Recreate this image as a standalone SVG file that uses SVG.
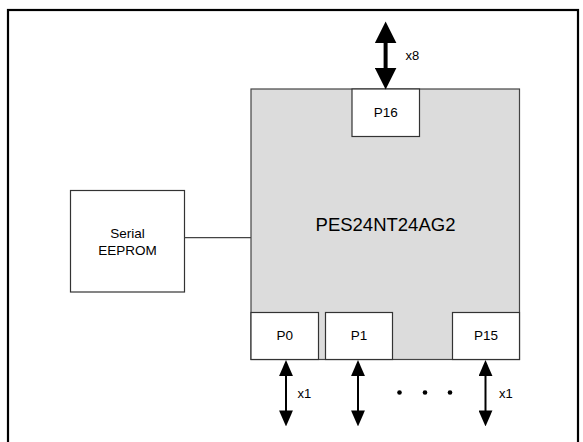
<svg xmlns="http://www.w3.org/2000/svg" width="583" height="442" viewBox="0 0 583 442">
<style>
.box{fill:#fff;stroke:#333;stroke-width:1.2}
.chip{fill:#dcdcdc;stroke:#444;stroke-width:1.2}
.t{font-family:"Liberation Sans",Arial,sans-serif;font-size:13.5px;fill:#000;text-anchor:middle}
.big{font-size:18.5px}
.lbl{font-family:"Liberation Sans",Arial,sans-serif;font-size:13px;fill:#000}
.thick{stroke:#000;stroke-width:4;fill:none}
.thin{stroke:#000;stroke-width:2;fill:none}
.link{stroke:#444;stroke-width:1.2;fill:none}
</style>
<defs>
<marker id="hb" markerUnits="userSpaceOnUse" markerWidth="22" markerHeight="22" viewBox="0 0 21 21" refX="10" refY="10.5" orient="auto-start-reverse">
<path d="M0,0 L21,10.5 L0,21 z" fill="#000"/>
</marker>
<marker id="hs" markerUnits="userSpaceOnUse" markerWidth="16" markerHeight="14" viewBox="0 0 15 13" refX="8" refY="6.5" orient="auto-start-reverse">
<path d="M0,0 L15,6.5 L0,13 z" fill="#000"/>
</marker>
</defs>
<rect x="0" y="0" width="583" height="442" fill="#fff"/>
<rect x="8" y="10" width="570" height="460" fill="none" stroke="#000" stroke-width="2.2"/>
<g id="chip">
<rect class="chip" x="251" y="89" width="268.5" height="270.5"/>
<text class="t big" x="385.5" y="230.5">PES24NT24AG2</text>
</g>
<g id="p16">
<rect class="box" x="352" y="89" width="67.5" height="47.5"/>
<text class="t" x="385.7" y="117">P16</text>
</g>
<g id="p0">
<rect class="box" x="251" y="312.5" width="67.5" height="47"/>
<text class="t" x="284.7" y="340">P0</text>
</g>
<g id="p1">
<rect class="box" x="325.5" y="312.5" width="67" height="47"/>
<text class="t" x="359" y="340">P1</text>
</g>
<g id="p15">
<rect class="box" x="452.5" y="312.5" width="67" height="47"/>
<text class="t" x="486" y="340">P15</text>
</g>
<g id="eeprom">
<rect class="box" x="70.5" y="190.5" width="114" height="101.5"/>
<text class="t" x="127.5" y="238">Serial</text>
<text class="t" x="127.5" y="255">EEPROM</text>
</g>
<g id="connectors">
<line class="link" x1="184.5" y1="237.7" x2="251" y2="237.7"/>
<line class="thick" x1="385.6" y1="33" x2="385.6" y2="78" marker-start="url(#hb)" marker-end="url(#hb)"/>
<line class="thin" x1="286" y1="367.5" x2="286" y2="419" marker-start="url(#hs)" marker-end="url(#hs)"/>
<line class="thin" x1="358" y1="367.5" x2="358" y2="419" marker-start="url(#hs)" marker-end="url(#hs)"/>
<line class="thin" x1="485.5" y1="367.5" x2="485.5" y2="419" marker-start="url(#hs)" marker-end="url(#hs)"/>
<text class="lbl" x="405.5" y="60">x8</text>
<text class="lbl" x="297.5" y="398">x1</text>
<text class="lbl" x="499" y="398">x1</text>
<circle cx="399.5" cy="392.5" r="2.3" fill="#000"/>
<circle cx="425" cy="392.5" r="2.3" fill="#000"/>
<circle cx="450" cy="392.5" r="2.3" fill="#000"/>
</g>
</svg>
